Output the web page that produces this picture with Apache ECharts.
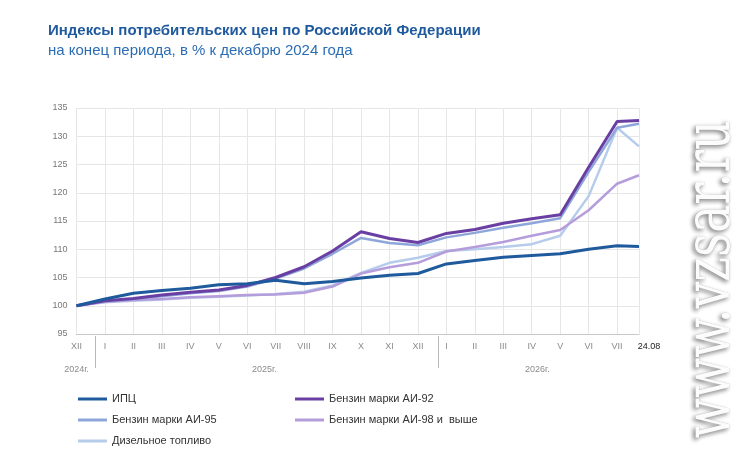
<!DOCTYPE html>
<html>
<head>
<meta charset="utf-8">
<script src="https://cdn.jsdelivr.net/npm/echarts@6/dist/echarts.min.js"></script>
<style>
html,body{margin:0;padding:0;background:#fff;}
#c{width:738px;height:460px;}
</style>
</head>
<body>
<div id="c"></div>
<script>
// Month labels of the x axis (period end points)
const monthLabels = ['XII','I','II','III','IV','V','VI','VII','VIII','IX','X','XI','XII','I','II','III','IV','V','VI','VII','24.08'];
// Position of each period on the month scale (0 = Dec 2024, last point = 24 Aug 2026)
const periodPos = [0,1,2,3,4,5,6,7,8,9,10,11,12,13,14,15,16,17,18,19,19.77];
const yearLabels = ['2024г.','2025г.','2026г.'];
const yearLabelPos = [0, 6.6, 16.2];
const yearSeparatorPos = [0.65, 12.73];
const yTicks = [95,100,105,110,115,120,125,130,135];

const seriesNames = ['ИПЦ','Бензин марки АИ-92','Бензин марки АИ-95','Бензин марки АИ-98 и  выше','Дизельное топливо'];
const cpi    = [100,101.2,102.2,102.7,103.1,103.7,103.9,104.5,103.9,104.3,104.9,105.4,105.7,107.4,108.0,108.6,108.9,109.2,110.0,110.6,110.5];
const ai92   = [100,100.9,101.3,101.9,102.4,102.8,103.6,105.0,106.9,109.7,113.1,111.9,111.2,112.8,113.5,114.6,115.4,116.1,124.5,132.6,132.8];
const ai95   = [100,100.8,101.2,101.7,102.2,102.6,103.4,104.8,106.6,109.2,112.0,111.1,110.7,112.1,112.9,113.8,114.6,115.5,123.7,131.5,132.2];
const ai98   = [100,100.7,101.0,101.2,101.5,101.7,101.9,102.0,102.3,103.4,105.7,106.8,107.6,109.6,110.4,111.3,112.4,113.4,116.9,121.6,123.1];
const diesel = [100,100.6,100.9,101.1,101.4,101.6,101.8,102.1,102.5,103.6,105.8,107.6,108.5,109.7,110.0,110.4,110.9,112.4,119.4,131.5,128.2];

const colors = {cpi:'#1f5b9c', ai92:'#6a3fa3', ai95:'#8ea6da', ai98:'#b59ddb', diesel:'#b6cceb'};
const FONT = "'Liberation Sans', Arial, sans-serif";

function pts(vals){ return vals.map((v,i)=>[periodPos[i], v]); }
function mkSeries(name, vals, color, width){
  return {name:name, type:'line', data:pts(vals), symbol:'none', smooth:false,
    lineStyle:{color:color, width:width}, itemStyle:{color:color}, emphasis:{disabled:true}};
}

const xMax = periodPos[periodPos.length-1];
const chart = echarts.init(document.getElementById('c'), null, {renderer:'canvas'});
chart.setOption({
  animation:false,
  backgroundColor:'#fff',
  title:{
    text:'Индексы потребительских цен по Российской Федерации',
    subtext:'на конец периода, в % к декабрю 2024 года',
    left:43, top:18, itemGap:5,
    textStyle:{fontFamily:FONT, fontSize:15, fontWeight:'bold', color:'#1f5a9e'},
    subtextStyle:{fontFamily:FONT, fontSize:15, color:'#2b6db5'}
  },
  legend:[
    {left:73, top:387, orient:'vertical', itemWidth:29, itemHeight:3, itemGap:7, icon:'rect',
     data:[seriesNames[0], seriesNames[2], seriesNames[4]],
     textStyle:{fontFamily:FONT, fontSize:11, color:'#333', lineHeight:14}},
    {left:290, top:387, orient:'vertical', itemWidth:29, itemHeight:3, itemGap:7, icon:'rect',
     data:[seriesNames[1], seriesNames[3]],
     textStyle:{fontFamily:FONT, fontSize:11, color:'#333', lineHeight:14}}
  ],
  grid:{left:76.5, right:99, top:108, bottom:126, containLabel:false},
  xAxis:[
    {type:'value', min:0, max:xMax, interval:1,
     axisLine:{show:true, lineStyle:{color:'#c8c8c8'}},
     axisTick:{show:false},
     splitLine:{show:true, lineStyle:{color:'#e6e6e6'}},
     axisLabel:{margin:8, fontFamily:FONT, fontSize:9, color:'#8a8a8a',
       formatter:function(v){
         const i = periodPos.indexOf(v);
         if(i<0) return '';
         if(i===periodPos.length-1) return '{d|'+monthLabels[i]+'}';
         return monthLabels[i];
       },
       rich:{d:{fontFamily:FONT, fontSize:9, color:'#222', padding:[0,0,0,20]}}
     }},
    {type:'value', min:0, max:xMax, position:'bottom', offset:2,
     axisLine:{show:false},
     axisTick:{show:true, customValues:yearSeparatorPos, length:32, lineStyle:{color:'#b8b8b8'}},
     splitLine:{show:false},
     axisLabel:{show:true, customValues:yearLabelPos, margin:29, fontFamily:FONT, fontSize:9, color:'#8a8a8a',
       formatter:function(v){ const i = yearLabelPos.indexOf(v); return i<0 ? '' : yearLabels[i]; }}
    }
  ],
  yAxis:{type:'value', min:yTicks[0], max:yTicks[yTicks.length-1], interval:5,
    axisLine:{show:false}, axisTick:{show:false},
    splitLine:{show:true, lineStyle:{color:'#e6e6e6'}},
    axisLabel:{margin:9, fontFamily:FONT, fontSize:9, color:'#777'}},
  series:[
    mkSeries(seriesNames[4], diesel, colors.diesel, 2.5),
    mkSeries(seriesNames[3], ai98, colors.ai98, 2.5),
    mkSeries(seriesNames[2], ai95, colors.ai95, 2.5),
    mkSeries(seriesNames[1], ai92, colors.ai92, 3),
    mkSeries(seriesNames[0], cpi, colors.cpi, 3)
  ],
  graphic:[
    {type:'text', x:713, y:279, rotation:Math.PI/2, scaleY:1.35, silent:true, z:100,
     style:{text:'www.vzsar.ru', font:"47px 'DejaVu Serif', serif", fill:'#fcfcfc',
       align:'center', verticalAlign:'middle',
       stroke:'#dcdcdc', lineWidth:0.5,
       textShadowColor:'rgba(0,0,0,0.45)', textShadowBlur:4, textShadowOffsetX:-2, textShadowOffsetY:2,
       shadowColor:'rgba(0,0,0,0.45)', shadowBlur:4, shadowOffsetX:-2, shadowOffsetY:2}}
  ]
});
</script>
</body>
</html>
